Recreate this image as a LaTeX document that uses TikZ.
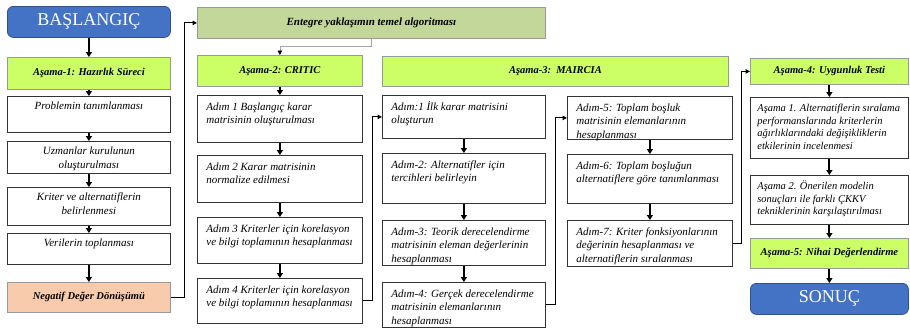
\documentclass[tikz,border=0pt]{standalone}
\usepackage{fontspec}
\setmainfont{Liberation Serif}
\usetikzlibrary{arrows.meta}
\definecolor{startblue}{HTML}{4472C4}
\definecolor{startline}{HTML}{2F528F}
\definecolor{phasegreen}{HTML}{CCFF66}
\definecolor{mainolive}{HTML}{C4D79B}
\definecolor{negorange}{HTML}{F8CBAD}
\newcommand{\boxtxt}[3]{\parbox[t][#2pt][t]{#1pt}{\raggedright\strut #3}}
\newcommand{\midtxt}[3]{\parbox[t][#2pt][t]{#1pt}{\centering\strut #3}}

\begin{document}
\begin{tikzpicture}[x=1pt, y=-1pt,
    every node/.style={font=\itshape\fontsize{11}{13.5}\selectfont},
    stepbox/.style={draw=black!80, line width=0.8pt, fill=white, anchor=north west, inner xsep=9pt, inner ysep=5.5pt},
    phasebox/.style={draw=black!40, line width=0.8pt, fill=phasegreen, anchor=north west, inner sep=0pt, font=\bfseries\itshape\fontsize{10.5}{12}\selectfont},
    endbox/.style={draw=startline, line width=0.8pt, fill=startblue, rounded corners=6pt, anchor=north west, inner sep=0pt, text=white, font=\fontsize{18}{20}\selectfont},
    flow/.style={line width=2pt, -{Triangle[width=6pt,length=5pt]}},
    link/.style={line width=1pt, -{Triangle[width=4.5pt,length=4.5pt]}},
    graylink/.style={draw=black!35, line width=0.8pt, -{Triangle[width=4.5pt,length=4.5pt,black]}}]
  \useasboundingbox (0,0) rectangle (910,330);

  % stage 1
  \node[endbox, minimum width=163pt, minimum height=31pt] (S) at (7,6) {BAŞLANGIÇ};
  \node[phasebox, minimum width=163pt, minimum height=32pt] (A1) at (7,57) {Aşama-1: Hazırlık Süreci};
  \node[stepbox, inner ysep=4pt] (P1) at (7,96) {\midtxt{145}{28}{Problemin tanımlanması}};
  \node[stepbox, inner ysep=4pt] (P2) at (7,141) {\midtxt{145}{24}{Uzmanlar kurulunun\\ oluşturulması}};
  \node[stepbox, inner ysep=4pt] (P3) at (7,187) {\midtxt{145}{30}{Kriter ve alternatiflerin\\ belirlenmesi}};
  \node[stepbox, inner ysep=4pt] (P4) at (7,233) {\midtxt{145}{23}{Verilerin toplanması}};
  \node[phasebox, fill=negorange, minimum width=163pt, minimum height=30pt] (N) at (7,282) {Negatif Değer Dönüşümü};

  % top box
  \node[phasebox, fill=mainolive, minimum width=348pt, minimum height=31pt, font=\bfseries\itshape\fontsize{11}{12}\selectfont] (E) at (197,7) {Entegre yaklaşımın temel algoritması};

  % stage 2
  \node[phasebox, minimum width=165pt, minimum height=31pt] (A2) at (197,55) {Aşama-2: CRITIC};
  \node[stepbox] (C1) at (197,95) {\boxtxt{147}{36}{Adım 1 Başlangıç karar\\ matrisinin oluşturulması}};
  \node[stepbox] (C2) at (197,155) {\boxtxt{147}{36}{Adım 2 Karar matrisinin\\ normalize edilmesi}};
  \node[stepbox] (C3) at (197,217) {\boxtxt{147}{35}{Adım 3 Kriterler için korelasyon\\ ve bilgi toplamının hesaplanması}};
  \node[stepbox] (C4) at (197,278) {\boxtxt{147}{34}{Adım 4 Kriterler için korelasyon\\ ve bilgi toplamının hesaplanması}};

  % stage 3
  \node[phasebox, minimum width=346pt, minimum height=30pt] (A3) at (382,56) {Aşama-3:\ \ MAIRCIA};
  \node[stepbox] (M1) at (382,95) {\boxtxt{145}{32}{Adım:1 İlk karar matrisini\\ oluşturun}};
  \node[stepbox] (M2) at (382,153) {\boxtxt{145}{39}{Adım-2: Alternatifler için\\ tercihleri belirleyin}};
  \node[stepbox] (M3) at (382,220) {\boxtxt{145}{34}{Adım-3: Teorik derecelendirme\\ matrisinin eleman değerlerinin\\ hesaplanması}};
  \node[stepbox] (M4) at (382,282) {\boxtxt{145}{34}{Adım-4: Gerçek derecelendirme\\ matrisinin elemanlarının\\ hesaplanması}};
  \node[stepbox] (M5) at (567,96) {\boxtxt{147}{32}{Adım-5: Toplam boşluk\\ matrisinin elemanlarının\\ hesaplanması}};
  \node[stepbox] (M6) at (567,154) {\boxtxt{147}{38}{Adım-6: Toplam boşluğun\\ alternatiflere göre tanımlanması}};
  \node[stepbox] (M7) at (567,220) {\boxtxt{147}{35}{Adım-7: Kriter fonksiyonlarının\\ değerinin hesaplanması ve\\ alternatiflerin sıralanması}};

  % stages 4 and 5
  \node[phasebox, minimum width=158pt, minimum height=26pt] (A4) at (750,58) {Aşama-4: Uygunluk Testi};
  \node[stepbox, inner xsep=7pt, font=\itshape\fontsize{10.5}{12.6}\selectfont] (T1) at (750,97) {\boxtxt{144}{50}{Aşama 1. Alternatiflerin sıralama\\ performanslarında kriterlerin\\ ağırlıklarındaki değişikliklerin\\ etkilerinin incelenmesi}};
  \node[stepbox, inner xsep=7pt, font=\itshape\fontsize{10.5}{12.6}\selectfont] (T2) at (750,175) {\boxtxt{144}{38}{Aşama 2. Önerilen modelin\\ sonuçları ile farklı ÇKKV\\ tekniklerinin karşılaştırılması}};
  \node[phasebox, minimum width=158pt, minimum height=30pt] (A5) at (750,238) {Aşama-5: Nihai Değerlendirme};
  \node[endbox, minimum width=158pt, minimum height=31pt] (F) at (750,283) {SONUÇ};

  \draw[flow] (S) -- (A1);
  \draw[flow] (A1) -- (P1);
  \draw[flow] (P1) -- (P2);
  \draw[flow] (P2) -- (P3);
  \draw[flow] (P3) -- (P4);
  \draw[flow] (P4) -- (N);
  \draw[flow] (A2) -- (C1);
  \draw[flow] (C1) -- (C2);
  \draw[flow] (C2) -- (C3);
  \draw[flow] (C3) -- (C4);
  \draw[flow] (M1) -- (M2);
  \draw[flow] (M2) -- (M3);
  \draw[flow] (M3) -- (M4);
  \draw[flow] (M5) -- (M6);
  \draw[flow] (M6) -- (M7);
  \draw[flow] (A4) -- (T1);
  \draw[flow] (T1) -- (T2);
  \draw[flow] (T2) -- (A5);
  \draw[flow] (A5) -- (F);

  \draw[link] (N.east) -- ++(14,0) |- (E.west);
  \draw[graylink] (E.south) -- ++(0,8) -| (A2.north);
  \draw[link] (C4.east) -- ++(10,0) |- (M1.west);
  \draw[link] (M4.east) -- ++(10,0) |- (M5.west);
  \draw[link] (M7.east) -- ++(9,0) |- (A4.west);
\end{tikzpicture}
\end{document}
